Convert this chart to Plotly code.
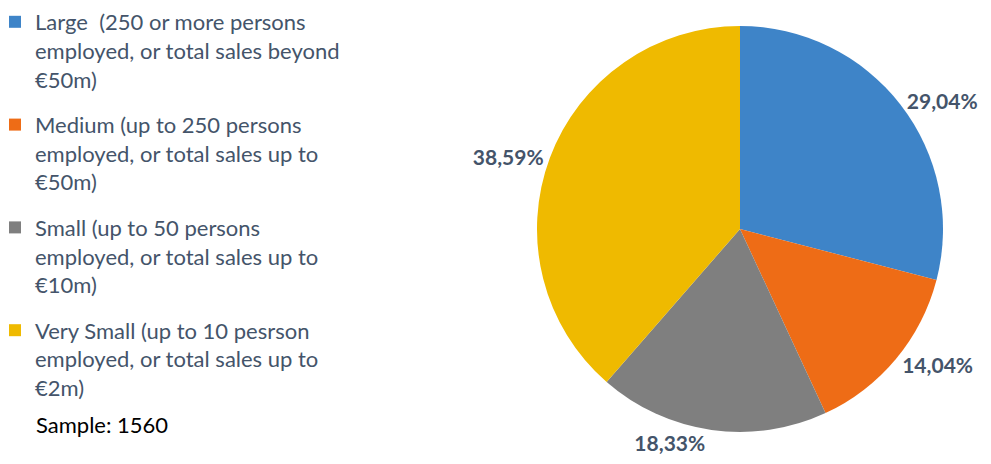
import plotly.graph_objects as go

categories = [
    "Large  (250 or more persons<br>employed, or total sales beyond<br>€50m)",
    "Medium (up to 250 persons<br>employed, or total sales up to<br>€50m)",
    "Small (up to 50 persons<br>employed, or total sales up to<br>€10m)",
    "Very Small (up to 10 pesrson<br>employed, or total sales up to<br>€2m)",
]
values = [29.04, 14.04, 18.33, 38.59]
value_labels = ["29,04%", "14,04%", "18,33%", "38,59%"]
colors = ["#3E84C8", "#EE6C16", "#7F7F7F", "#EFBA00"]
sample_note = "Sample: 1560"

# page body has an 8px margin; work in screen coordinates and convert
OFF = 8
W, H = 991 - OFF, 464 - OFF


def px(xs):
    return (xs - OFF) / W


def py(ys):
    return 1 - (ys - OFF) / H


cx, cy, r = 740, 229, 203

fig = go.Figure()
fig.add_trace(go.Pie(
    labels=categories,
    values=values,
    text=value_labels,
    textinfo="text",
    textposition="outside",
    sort=False,
    direction="clockwise",
    rotation=0,
    showlegend=False,
    automargin=False,
    marker=dict(colors=colors, line=dict(width=0)),
    textfont=dict(family="Lato", size=21, color="#44546A", weight="bold"),
    domain=dict(x=[px(cx - r), px(cx + r)], y=[py(cy + r), py(cy - r)]),
    hoverinfo="label+percent",
))

# legend entries (one per category, each in its own group for spacing)
for name, col in zip(categories, colors):
    fig.add_trace(go.Scatter(
        x=[None], y=[None], mode="markers", name=name,
        legendgroup=name,
        marker=dict(symbol="square", size=12, color=col),
        hoverinfo="skip",
    ))

fig.update_layout(
    width=W, height=H,
    margin=dict(l=0, r=0, t=0, b=0, autoexpand=False),
    paper_bgcolor="white",
    plot_bgcolor="white",
    font=dict(family="Lato", size=22, color="#44546A"),
    xaxis=dict(visible=False),
    yaxis=dict(visible=False),
    showlegend=True,
    legend=dict(
        x=px(-5), y=py(1), xanchor="left", yanchor="top",
        valign="top",
        font=dict(family="Lato", size=22, color="#44546A"),
        itemclick=False,
        tracegroupgap=14,
        maxheight=460,
        bgcolor="rgba(0,0,0,0)",
    ),
    annotations=[dict(
        text=sample_note, x=px(34), y=py(424), xref="paper", yref="paper",
        xanchor="left", yanchor="middle", showarrow=False,
        font=dict(family="Lato", size=22, color="#000000"),
    )],
)

fig.write_html("out.html")
